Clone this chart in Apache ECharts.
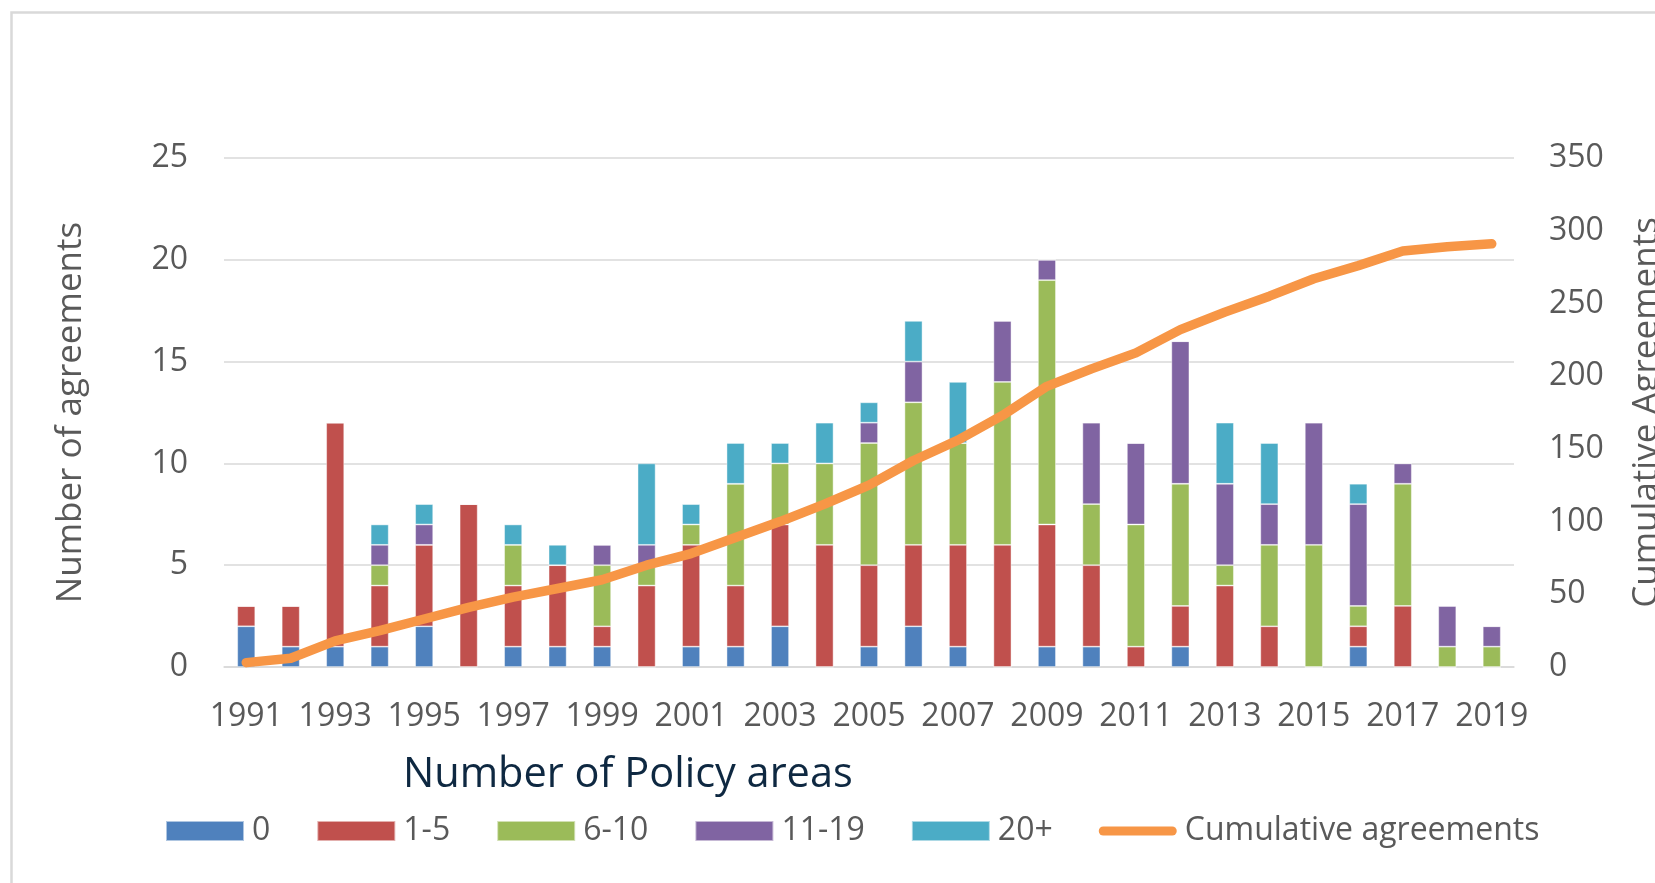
<!DOCTYPE html>
<html>
<head>
<meta charset="utf-8">
<script src="https://cdn.jsdelivr.net/npm/echarts@6/dist/echarts.min.js"></script>
<style>
html,body{margin:0;padding:0;background:#fff;}
#chart{width:1655px;height:883px;}
</style>
</head>
<body>
<div id="chart"></div>
<script>
const years = ['1991','1992','1993','1994','1995','1996','1997','1998','1999','2000','2001','2002','2003','2004','2005','2006','2007','2008','2009','2010','2011','2012','2013','2014','2015','2016','2017','2018','2019'];
const areas0      = [2,1,1,1,2,0,1,1,1,0,1,1,2,0,1,2,1,0,1,1,0,1,0,0,0,1,0,0,0];
const areas1to5   = [1,2,11,3,4,8,3,4,1,4,5,3,5,6,4,4,5,6,6,4,1,2,4,2,0,1,3,0,0];
const areas6to10  = [0,0,0,1,0,0,2,0,3,1,1,5,3,4,6,7,5,8,12,3,6,6,1,4,6,1,6,1,1];
const areas11to19 = [0,0,0,1,1,0,0,0,1,1,0,0,0,0,1,2,0,3,1,4,4,7,4,2,6,5,1,2,1];
const areas20plus = [0,0,0,1,1,0,1,1,0,4,1,2,1,2,1,2,3,0,0,0,0,0,3,3,0,1,0,0,0];
const cumulative  = [3,6,18,25,33,41,48,54,60,70,78,89,100,112,125,142,156,173,193,205,216,232,244,255,267,276,286,289,291];
const leftTicks = {min:0, max:25, interval:5};
const rightTicks = {min:0, max:350, interval:50};

const FONT = '"Open Sans", sans-serif';
const GREY = '#595959';
const chart = echarts.init(document.getElementById('chart'), null, {renderer:'canvas'});

function barSeries(name, data, color){
  return {name, type:'bar', stack:'total', data, barWidth:18, yAxisIndex:0,
    itemStyle:{color, borderColor:'rgba(255,255,255,0.55)', borderWidth:0.8}, emphasis:{disabled:true}};
}

chart.setOption({
  animation:false,
  backgroundColor:'#fff',
  textStyle:{fontFamily:FONT},
  grid:{left:224, right:141, top:158, bottom:216, containLabel:false},
  xAxis:{type:'category', data:years,
    axisLine:{lineStyle:{color:'#D9D9D9', width:1.5}},
    axisTick:{show:false},
    axisLabel:{interval:1, color:GREY, fontSize:32, fontFamily:FONT, margin:34}},
  yAxis:[
    {type:'value', min:leftTicks.min, max:leftTicks.max, interval:leftTicks.interval,
      axisLine:{show:false}, axisTick:{show:false},
      axisLabel:{color:GREY, fontSize:32, fontFamily:FONT, margin:36, padding:[6,0,0,0]},
      splitLine:{lineStyle:{color:'#D9D9D9', width:1.5}}},
    {type:'value', min:rightTicks.min, max:rightTicks.max, interval:rightTicks.interval,
      position:'right',
      axisLine:{show:false}, axisTick:{show:false},
      axisLabel:{color:GREY, fontSize:32, fontFamily:FONT, margin:35, padding:[6,0,0,0]},
      splitLine:{show:false}}
  ],
  legend:{left:160, top:810, itemWidth:78, itemHeight:20, itemGap:46,
    textStyle:{color:GREY, fontSize:32, fontFamily:FONT, padding:[0,0,0,3]},
    data:[
      {name:'0', icon:'rect'},
      {name:'1-5', icon:'rect'},
      {name:'6-10', icon:'rect'},
      {name:'11-19', icon:'rect'},
      {name:'20+', icon:'rect'},
      {name:'Cumulative agreements', icon:'path://M4.5,0 L73.5,0 A4.5,4.5 0 0 1 73.5,9 L4.5,9 A4.5,4.5 0 0 1 4.5,0 Z',
        itemStyle:{color:'#F79646'}}
    ]},
  series:[
    barSeries('0', areas0, '#4F81BD'),
    barSeries('1-5', areas1to5, '#C0504D'),
    barSeries('6-10', areas6to10, '#9BBB59'),
    barSeries('11-19', areas11to19, '#8064A2'),
    barSeries('20+', areas20plus, '#4BACC6'),
    {name:'Cumulative agreements', type:'line', yAxisIndex:1, data:cumulative,
      symbol:'none', showSymbol:false, smooth:false, z:5,
      lineStyle:{color:'#F79646', width:9.5, cap:'round', join:'round'},
      itemStyle:{color:'#F79646'}, emphasis:{disabled:true}}
  ],
  graphic:[
    {type:'rect', shape:{x:11.5, y:12.5, width:1700, height:1000},
      style:{fill:'none', stroke:'#D9D9D9', lineWidth:2.5}, silent:true},
    {type:'text', x:71, y:412.5, rotation:Math.PI/2,
      style:{text:'Number of agreements', fill:GREY, font:'35px "Open Sans", sans-serif', align:'center', verticalAlign:'middle'}},
    {type:'text', x:1647, y:412.5, rotation:Math.PI/2,
      style:{text:'Cumulative Agreements', fill:GREY, font:'35px "Open Sans", sans-serif', align:'center', verticalAlign:'middle'}},
    {type:'text', x:403, y:775,
      style:{text:'Number of Policy areas', fill:'#0E2841', font:'41.5px "Open Sans", sans-serif', align:'left', verticalAlign:'middle'}}
  ]
});
</script>
</body>
</html>
